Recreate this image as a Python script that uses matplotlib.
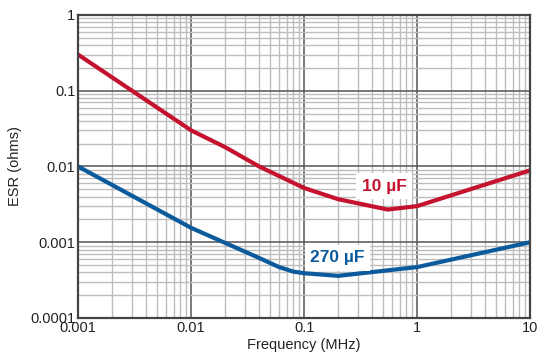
import matplotlib
matplotlib.use('Agg')
from matplotlib import pyplot as plt
from matplotlib.ticker import LogLocator, FixedLocator, NullFormatter
import numpy as np

plt.rcParams['font.family'] = ['Liberation Sans', 'DejaVu Sans']

# data (frequency in MHz, ESR in ohms)
freq_10uf = [0.001, 0.01, 0.02, 0.04, 0.1, 0.2, 0.55, 1.0, 10.0]
esr_10uf = [0.3, 0.03, 0.018, 0.0100, 0.0052, 0.0037, 0.0027, 0.0030, 0.0089]

freq_270uf = [0.001, 0.01, 0.02, 0.04, 0.06, 0.08, 0.1, 0.2, 1.0, 10.0]
esr_270uf = [0.0100, 0.00155, 0.00098, 0.00062, 0.00047, 0.00041, 0.00039, 0.00036, 0.00047, 0.0010]

x_ticks = [0.001, 0.01, 0.1, 1, 10]
x_labels = ['0.001', '0.01', '0.1', '1', '10']
y_ticks = [0.0001, 0.001, 0.01, 0.1, 1]
y_labels = ['0.0001', '0.001', '0.01', '0.1', '1']

red = '#c4122f'
blue = '#0a5a9c'


def run():
    fig = plt.figure(figsize=(5.46, 3.54), dpi=100)
    ax = fig.add_axes([0.143, 0.1017, 0.828, 0.856])

    ax.set_xscale('log')
    ax.set_yscale('log')
    ax.set_xlim(0.001, 10)
    ax.set_ylim(0.0001, 1)

    # grid: light minor lines, dark decade lines
    ax.xaxis.set_major_locator(FixedLocator(x_ticks))
    ax.yaxis.set_major_locator(FixedLocator(y_ticks))
    ax.xaxis.set_minor_locator(LogLocator(base=10, subs=np.arange(2, 10)))
    ax.yaxis.set_minor_locator(LogLocator(base=10, subs=np.arange(2, 10)))
    ax.xaxis.set_minor_formatter(NullFormatter())
    ax.yaxis.set_minor_formatter(NullFormatter())
    ax.grid(which='minor', color='#bdbdbd', linewidth=1.0)
    ax.grid(which='major', color='#555555', linewidth=1.1)
    ax.set_axisbelow(True)

    ax.set_xticklabels(x_labels)
    ax.set_yticklabels(y_labels)
    ax.tick_params(which='both', length=0, labelsize=10.5, colors='#222222', pad=2)

    for sp in ax.spines.values():
        sp.set_color('#444444')
        sp.set_linewidth(1.6)

    ax.plot(freq_10uf, esr_10uf, color=red, linewidth=3, solid_joinstyle='round')
    ax.plot(freq_270uf, esr_270uf, color=blue, linewidth=3, solid_joinstyle='round')

    box = dict(boxstyle='square,pad=0.3', facecolor='white', edgecolor='none')
    ax.text(0.51, 0.0055, '10 \u00b5F', color=red, fontsize=12.5, fontweight='bold',
            ha='center', va='center', bbox=box)
    ax.text(0.196, 0.00062, '270 \u00b5F', color=blue, fontsize=12.5, fontweight='bold',
            ha='center', va='center', bbox=box)

    ax.set_xlabel('Frequency (MHz)', fontsize=10.5, color='#222222', labelpad=2)
    ax.set_ylabel('ESR (ohms)', fontsize=10.5, color='#222222', labelpad=6)

    fig.savefig('out.png', dpi=100, facecolor='white')


if __name__ == '__main__':
    run()
